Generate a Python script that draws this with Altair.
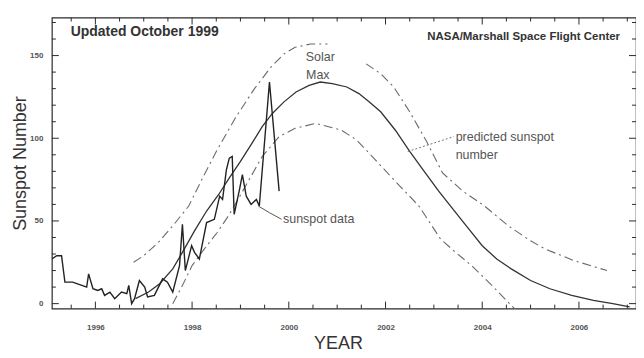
import altair as alt
import pandas as pd

# ---- data ----
sun_year = [1995.1, 1995.2, 1995.3, 1995.37, 1995.53, 1995.72, 1995.82, 1995.86, 1995.95,
            1996.05, 1996.13, 1996.19, 1996.3, 1996.4, 1996.54, 1996.65, 1996.69, 1996.75,
            1996.81, 1996.91, 1997.02, 1997.08, 1997.22, 1997.39, 1997.49, 1997.6, 1997.74,
            1997.8, 1997.86, 1997.99, 1998.05, 1998.15, 1998.3, 1998.46, 1998.57, 1998.63,
            1998.71, 1998.77, 1998.83, 1998.87, 1998.98, 1999.04, 1999.12, 1999.22, 1999.33,
            1999.39, 1999.6, 1999.8]
sun_val = [27, 29, 29, 13, 13, 11, 10, 18, 9,
           8, 9, 5, 7, 3, 7, 6, 11, 0,
           3, 14, 10, 4, 5, 15, 13, 7, 23,
           48, 20, 35, 31, 27, 49, 51, 65, 63,
           81, 88, 89, 54, 69, 78, 65, 60, 63,
           59, 134, 68]

pred_year = [1996.83, 1997.1, 1997.33, 1997.6, 1997.8, 1998.05, 1998.3, 1998.55, 1998.77,
             1999.0, 1999.24, 1999.45, 1999.66, 1999.9, 2000.15, 2000.42, 2000.65, 2000.9,
             2001.2, 2001.45, 2001.66, 2001.9, 2002.2, 2002.5, 2002.8, 2003.1, 2003.37,
             2003.7, 2004.0, 2004.3, 2004.6, 2005.0, 2005.4, 2005.85, 2006.3, 2006.7, 2007.05]
pred_val = [3, 7, 12, 21, 31, 44, 56, 66, 76,
            86, 97, 107, 115, 122, 128, 132, 134, 133,
            131, 127, 122, 116, 105, 92, 80, 68, 58,
            46, 35, 27, 21, 14, 9, 5, 2, 0, -2]

up_year = [1996.79, 1997.0, 1997.3, 1997.6, 1997.93, 1998.2, 1998.5, 1998.91, 1999.29,
           1999.63, 1999.9, 2000.13, 2000.45, 2000.8,
           2001.6, 2001.9, 2002.17, 2002.5, 2002.85, 2003.18, 2003.6, 2004.05, 2004.54,
           2005.0, 2005.3, 2005.9, 2006.58]
up_val = [25, 29, 37, 47, 59, 75, 92, 113, 130,
          143, 151, 155, 157, 157,
          145, 139, 131, 116, 98, 79, 68, 59, 47,
          38, 33, 26, 20]
up_seg = [1] * 14 + [2] * 13

low_year = [1997.6, 1997.8, 1998.0, 1998.25, 1998.52, 1998.75, 1998.95, 1999.2, 1999.45,
            1999.8, 2000.13, 2000.56, 2001.08, 2001.4, 2001.66, 2002.17, 2002.69, 2003.14,
            2003.45, 2003.78, 2004.2, 2004.7]
low_val = [0, 11, 23, 33, 43, 53, 63, 76, 89,
           101, 106, 109, 105, 99, 91, 75, 59, 39,
           31, 23, 11, -4]

x_major = [1996, 1998, 2000, 2002, 2004, 2006]
x_minor = [1995.5, 1996.5, 1997, 1997.5, 1998.5, 1999, 1999.5, 2000.5, 2001, 2001.5,
           2002.5, 2003, 2003.5, 2004.5, 2005, 2005.5, 2006.5, 2007]
y_major = [0, 50, 100, 150]
y_minor = [10, 20, 30, 40, 60, 70, 80, 90, 110, 120, 130, 140, 160, 170]

# annotation texts and anchors (data units)
center_text = ["Solar", "Max"]
center_x = [2000.65, 2000.6]
center_y = [149, 138]
left_text = ["predicted sunspot", "number", "sunspot data"]
left_x = [2003.45, 2003.45, 1999.88]
left_y = [101, 90, 51]

lead1_x = [2002.46, 2003.41]
lead1_y = [92, 101]
lead2_x = [1999.37, 1999.6, 1999.85]
lead2_y = [59, 55, 51]

W, H = 586, 292
XD = [1995.1, 2007.18]
YD = [-3, 173]
INK = "#2b2b2b"

xs = alt.Scale(domain=XD, nice=False, zero=False)
ys = alt.Scale(domain=YD, nice=False, zero=False)

XAX = alt.Axis(values=x_major, format="d", ticks=False, domain=False, grid=False,
               labelFontSize=8, labelFontWeight="bold", labelColor="#555",
               labelFont="Liberation Sans", labelPadding=15,
               titleFont="Liberation Sans", titleFontSize=18,
               titleFontWeight="normal", titleColor="#333", titlePadding=3,
               titleX=287)
YAX = alt.Axis(values=y_major, ticks=False, domain=False, grid=False,
               labelFontSize=8, labelFontWeight="bold", labelColor="#555",
               labelFont="Liberation Sans", labelPadding=9,
               titleFont="Liberation Sans", titleFontSize=18,
               titleFontWeight="normal", titleColor="#333", titlePadding=0)

def X(f):
    return alt.X(f, scale=xs, axis=XAX, title="YEAR")

def Y(f):
    return alt.Y(f, scale=ys, axis=YAX, title="Sunspot Number")

def line(df, color, width, dash=None, detail=None):
    m = alt.Chart(df).mark_line(color=color, strokeWidth=width, clip=True,
                                **({"strokeDash": dash} if dash else {}))
    enc = dict(x=X("x:Q"), y=Y("y:Q"), order="x:Q")
    if detail:
        enc["detail"] = detail
    return m.encode(**enc)

sun = line(pd.DataFrame({"x": sun_year, "y": sun_val}), "#222222", 1.4)
pred = line(pd.DataFrame({"x": pred_year, "y": pred_val}), "#333333", 1.3)
upper = line(pd.DataFrame({"x": up_year, "y": up_val, "s": up_seg}), "#6a6a6a", 1.1,
             [9, 4, 2, 4], "s:N")
lower = line(pd.DataFrame({"x": low_year, "y": low_val}), "#6a6a6a", 1.1, [9, 4, 2, 4])
lead1 = line(pd.DataFrame({"x": lead1_x, "y": lead1_y}), "#666666", 0.9, [2, 2])
lead2 = line(pd.DataFrame({"x": lead2_x, "y": lead2_y}), "#555555", 1.0)

def xticks(vals, length):
    d = pd.DataFrame({"t": vals})
    b = alt.Chart(d).mark_rule(color=INK, strokeWidth=1).encode(
        x=X("t:Q"), y=alt.value(H), y2=alt.value(H - length))
    t = alt.Chart(d).mark_rule(color=INK, strokeWidth=1).encode(
        x=X("t:Q"), y=alt.value(0), y2=alt.value(length))
    return b + t

def yticks(vals, length):
    d = pd.DataFrame({"t": vals})
    l = alt.Chart(d).mark_rule(color=INK, strokeWidth=1).encode(
        y=Y("t:Q"), x=alt.value(0), x2=alt.value(length))
    r = alt.Chart(d).mark_rule(color=INK, strokeWidth=1).encode(
        y=Y("t:Q"), x=alt.value(W), x2=alt.value(W - length))
    return l + r

ticks = xticks(x_major, 7) + xticks(x_minor, 4) + yticks(y_major, 7) + yticks(y_minor, 4)

def notes(texts, xv, yv, align, size=12.5, weight="normal", color="#555555"):
    return alt.Chart(pd.DataFrame({"t": texts, "x": xv, "y": yv})).mark_text(
        font="Liberation Sans", fontSize=size, fontWeight=weight, color=color,
        baseline="middle", align=align
    ).encode(x=X("x:Q"), y=Y("y:Q"), text="t:N")

notes_c = notes(center_text, center_x, center_y, "center")
notes_l = notes(left_text, left_x, left_y, "left")
title_l = notes(["Updated October 1999"], [1995.49], [164.5], "left", 14, "bold", "#333333")
title_r = notes(["NASA/Marshall Space Flight Center"], [2006.85], [161], "right", 11.5,
                "bold", "#333333")

chart = alt.layer(upper, lower, pred, sun, lead1, lead2, ticks, notes_c, notes_l,
                  title_l, title_r
                  ).properties(
    width=W, height=H, autosize=alt.AutoSizeParams(type="none"),
    padding={"left": 44, "top": 9, "right": 0, "bottom": 49},
    background="white",
).configure_view(stroke=INK, strokeWidth=1.2)

chart.save("out.html", embed_options={"renderer": "svg", "actions": False})
